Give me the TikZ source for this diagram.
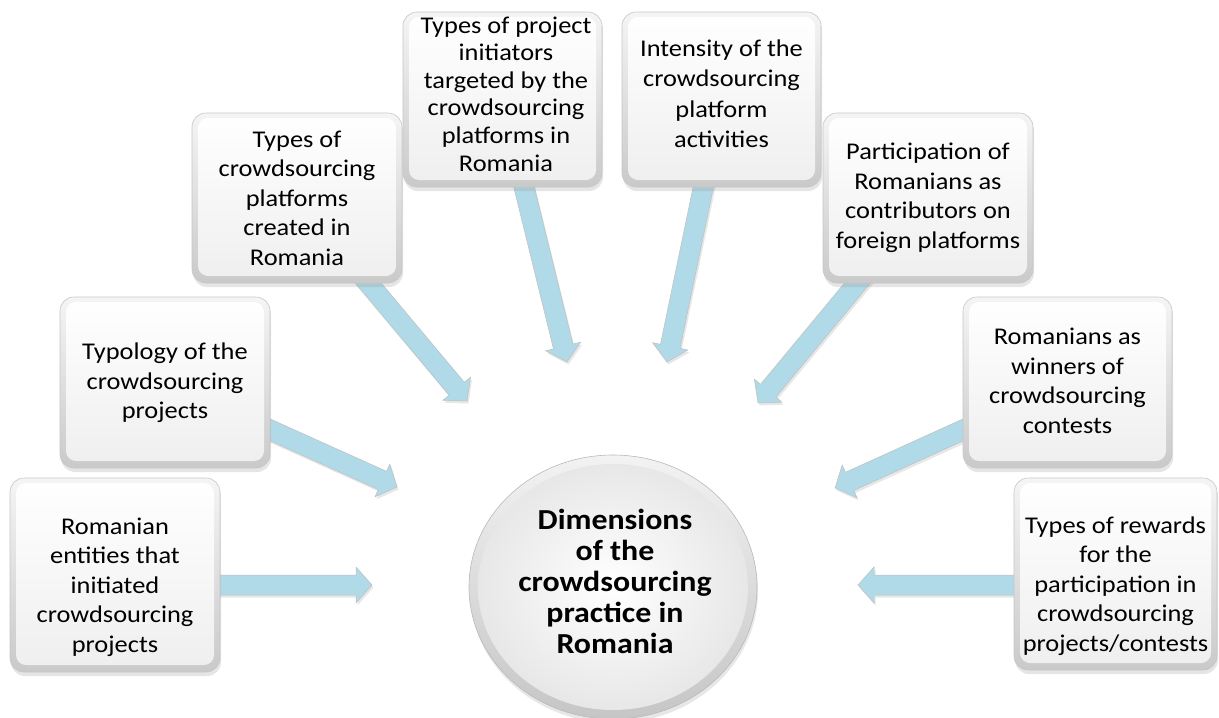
\documentclass[tikz,border=0pt]{standalone}
\usepackage{fontspec}
\setmainfont{Carlito}[FakeStretch=1.1]
\usetikzlibrary{shapes.geometric,shadows,calc}
\pgfdeclarelayer{background}
\pgfsetlayers{background,main}
\definecolor{arrowblue}{RGB}{176,218,232}
\definecolor{shadowgray}{RGB}{160,160,160}
\tikzset{
  boxshape/.style={draw=gray!45, line width=0.6pt, rounded corners=14pt,
    top color=gray!8, bottom color=gray!42, inner sep=0pt,
    drop shadow={fill=shadowgray, opacity=0.28, shadow xshift=1pt, shadow yshift=-4pt},
    path picture={\shade[top color=white, bottom color=gray!13, rounded corners=10pt]
      ([shift={(6pt,7pt)}]path picture bounding box.south west) rectangle
      ([shift={(-6pt,-5pt)}]path picture bounding box.north east);}},
  boxtxt/.style={align=center, inner sep=0pt, font=\fontsize{24}{29.5}\selectfont},
  centershape/.style={ellipse, draw=gray!55, line width=0.6pt, inner sep=0pt,
    top color=gray!10, bottom color=gray!45,
    drop shadow={fill=shadowgray, opacity=0.25, shadow xshift=1pt, shadow yshift=-4pt},
    path picture={\shade[inner color=white, outer color=gray!20]
      (path picture bounding box.center) ellipse (135pt and 123pt);}},
  centertxt/.style={align=center, inner sep=0pt, font=\fontsize{29}{31}\selectfont\bfseries},
  arrowfill/.style={fill=arrowblue, draw=gray!50, line width=0.5pt,
    drop shadow={fill=shadowgray, opacity=0.25, shadow xshift=1.5pt, shadow yshift=-2.5pt}},
}
\newcommand\blockarr[2]{%
  \coordinate (hb) at ($(#2)!16pt!(#1)$);
  \path[arrowfill] ($(#1)!10pt!90:(#2)$) -- ($(hb)!10pt!-90:(#1)$) -- ($(hb)!18pt!-90:(#1)$)
    -- (#2) -- ($(hb)!18pt!90:(#1)$) -- ($(hb)!10pt!90:(#1)$) -- ($(#1)!10pt!-90:(#2)$) -- cycle;}
\begin{document}
\begin{tikzpicture}[x=1pt,y=-1pt]
\useasboundingbox (0,0) rectangle (1219,718);
% boxes
\node[boxshape, minimum width=210pt, minimum height=194pt] (b1) at (115,575) {};
\node[boxshape, minimum width=210pt, minimum height=171pt] (b2) at (165,382.5) {};
\node[boxshape, minimum width=210pt, minimum height=170pt] (b3) at (297,198) {};
\node[boxshape, minimum width=199pt, minimum height=175pt] (b4) at (502.5,99.5) {};
\node[boxshape, minimum width=199pt, minimum height=175pt] (b5) at (721.5,99.5) {};
\node[boxshape, minimum width=210pt, minimum height=170pt] (b6) at (928,198) {};
\node[boxshape, minimum width=209pt, minimum height=171pt] (b7) at (1067.5,382.5) {};
\node[boxshape, minimum width=203pt, minimum height=192pt] (b8) at (1115.5,574) {};
% texts
\node[boxtxt] (l1) at (115,587) {Romanian\\entities that\\initiated\\crowdsourcing\\projects};
\node[boxtxt] (l2) at (165,383) {Typology of the\\crowdsourcing\\projects};
\node[boxtxt] (l3) at (297,198) {Types of\\crowdsourcing\\platforms\\created in\\Romania};
\node[boxtxt, font=\fontsize{24}{27.6}\selectfont] (l4) at (506,94) {Types of project\\initiators\\targeted by the\\crowdsourcing\\platforms in\\Romania};
\node[boxtxt, font=\fontsize{24}{30.5}\selectfont] (l5) at (721.5,94) {Intensity of the\\crowdsourcing\\platform\\activities};
\node[boxtxt] (l6) at (928,198) {Participation of\\Romanians as\\contributors on\\foreign platforms};
\node[boxtxt] (l7) at (1067.5,381) {Romanians as\\winners of\\crowdsourcing\\contests};
\node[boxtxt] (l8) at (1115.5,586) {Types of rewards\\for the\\participation in\\crowdsourcing\\projects/contests};
% centre
\node[centershape, minimum width=288pt, minimum height=264pt] (c) at (613,587) {};
\node[centertxt] (ct) at (615,581) {Dimensions\\of the\\crowdsourcing\\practice in\\Romania};
% arrow tips
\coordinate (e1) at (372,585);
\coordinate (e2) at (397,487);
\coordinate (e3) at (467,401);
\coordinate (e4) at (567,362);
\coordinate (e5) at (667,362);
\coordinate (e6) at (758,403);
\coordinate (e7) at (835,488);
\coordinate (e8) at (858,585);
\begin{pgfonlayer}{background}
\blockarr{b1.center |- e1}{e1}
\blockarr{b2.center}{e2}
\blockarr{b3.center}{e3}
\blockarr{b4.center}{e4}
\blockarr{b5.center}{e5}
\blockarr{b6.center}{e6}
\blockarr{b7.center}{e7}
\blockarr{b8.center |- e8}{e8}
\end{pgfonlayer}
\end{tikzpicture}
\end{document}
